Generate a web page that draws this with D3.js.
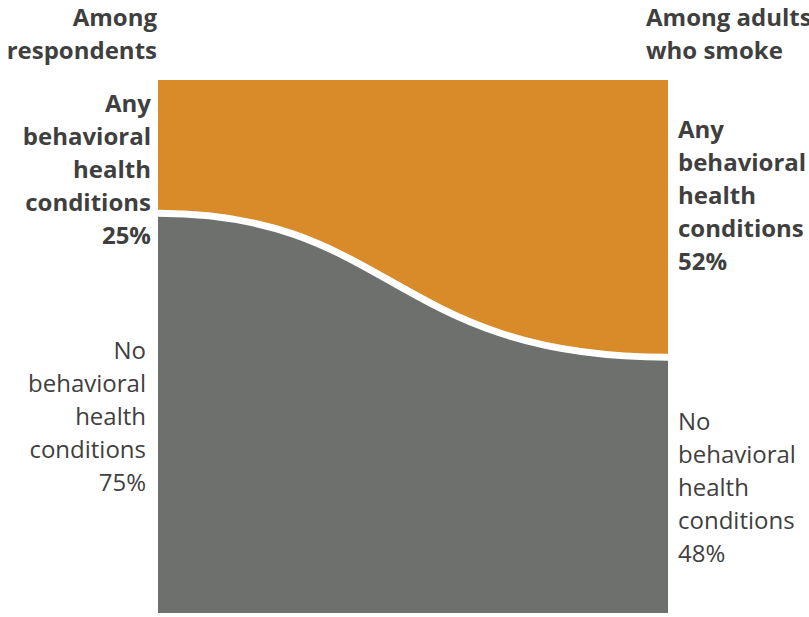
<!DOCTYPE html>
<html>
<head>
<meta charset="utf-8">
<script src="https://cdn.jsdelivr.net/npm/d3@7"></script>
<style>
  html, body { margin: 0; padding: 0; background: #fff; }
  svg { display: block; font-family: "Open Sans", sans-serif; }
</style>
</head>
<body>
<svg id="chart" width="809" height="617"></svg>
<script>
// Two populations compared side by side
const groups = ["Among respondents", "Among adults who smoke"];
const groupHeaders = [["Among", "respondents"], ["Among adults", "who smoke"]];

// Share of each population by behavioral health status (percent)
const categories = ["Any behavioral health conditions", "No behavioral health conditions"];
const anyConditions = [25, 52];
const noConditions = [75, 48];

const colors = { any: "#D88B28", none: "#6E706E", gap: "#ffffff" };
const textColor = "#3f3f3f";

const svg = d3.select("#chart");

const x = d3.scalePoint().domain(groups).range([158, 668]);
const y = d3.scaleLinear().domain([0, 100]).range([80, 613]);

const x0 = x(groups[0]), x1 = x(groups[1]);
const bend = 0.46; // horizontal position of the bezier handles across the span
const cx = x0 + bend * (x1 - x0);
const yl = y(anyConditions[0]), yr = y(anyConditions[1]);

// Orange band: top of the box down to the boundary curve
const pAny = d3.path();
pAny.moveTo(x0, y(0));
pAny.lineTo(x1, y(0));
pAny.lineTo(x1, yr);
pAny.bezierCurveTo(cx, yr, cx, yl, x0, yl);
pAny.closePath();

// Gray band: boundary curve down to the bottom of the box
const pNone = d3.path();
pNone.moveTo(x0, yl);
pNone.bezierCurveTo(cx, yl, cx, yr, x1, yr);
pNone.lineTo(x1, y(anyConditions[1] + noConditions[1]));
pNone.lineTo(x0, y(anyConditions[0] + noConditions[0]));
pNone.closePath();

// Boundary line separating the two bands
const pEdge = d3.path();
pEdge.moveTo(x0, yl);
pEdge.bezierCurveTo(cx, yl, cx, yr, x1, yr);

svg.append("path").attr("d", pAny.toString()).attr("fill", colors.any);
svg.append("path").attr("d", pNone.toString()).attr("fill", colors.none);
svg.append("path").attr("d", pEdge.toString())
  .attr("fill", "none").attr("stroke", colors.gap).attr("stroke-width", 7);

const lineH = 33;

function multiline(lines, xPos, firstBaseline, anchor, weight) {
  const t = svg.append("text")
    .attr("text-anchor", anchor)
    .attr("font-size", 24)
    .attr("font-weight", weight)
    .attr("fill", textColor);
  lines.forEach((ln, i) => {
    t.append("tspan").attr("x", xPos).attr("y", firstBaseline + i * lineH).text(ln);
  });
}

// Column headers
multiline(groupHeaders[0], x0 - 1, 26, "end", 700);
multiline(groupHeaders[1], x1 - 22, 26, "start", 700);

// Segment labels
function labelLines(cat, v) {
  const w = cat.split(" ");
  return [w[0], w[1], w[2], w[3], v + "%"];
}

// left side
multiline(labelLines(categories[0], anyConditions[0]), x0 - 7, y(0) + 32, "end", 700);
multiline(labelLines(categories[1], noConditions[0]),
  x0 - 12, y(anyConditions[0] + noConditions[0] / 2) - 54, "end", 400);

// right side
multiline(labelLines(categories[0], anyConditions[1]), x1 + 10, y(anyConditions[1] / 2) - 81, "start", 700);
multiline(labelLines(categories[1], noConditions[1]),
  x1 + 10, y(anyConditions[1] + noConditions[1] / 2) - 55, "start", 400);
</script>
</body>
</html>
